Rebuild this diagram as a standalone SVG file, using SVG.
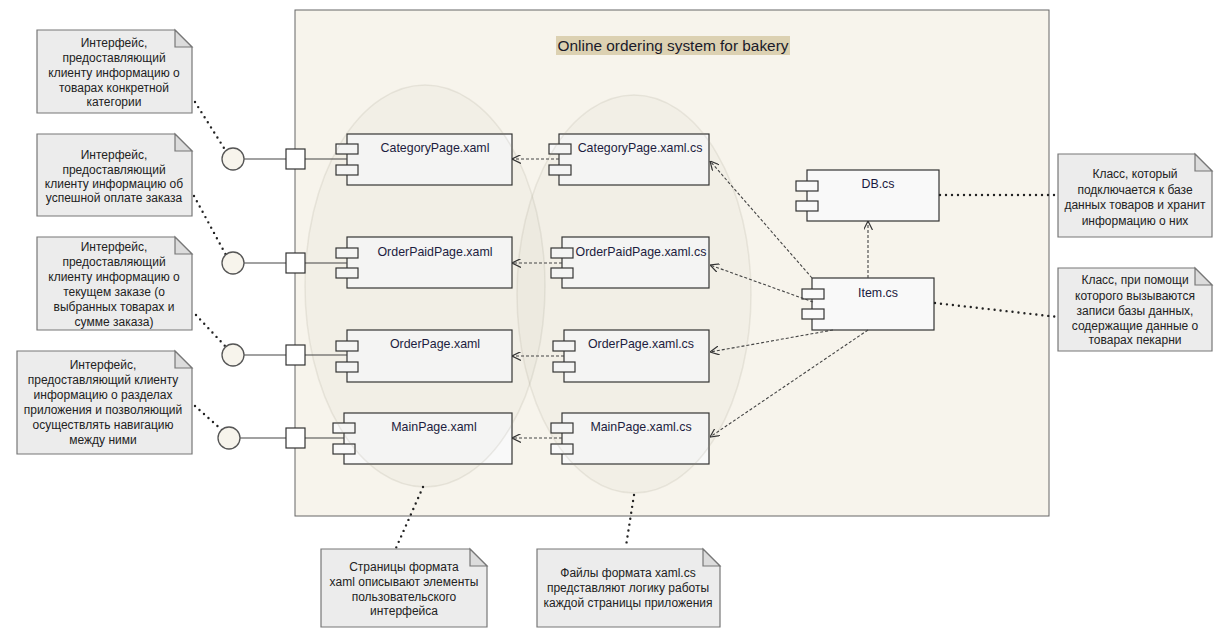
<svg xmlns="http://www.w3.org/2000/svg" width="1226" height="636" viewBox="0 0 1226 636">
<style>
  .bg{fill:#ffffff}
  .frame{fill:#f7f4ec;stroke:#666;stroke-width:1}
  .title{font-family:"Liberation Sans",Arial,sans-serif;font-size:15.4px;fill:#1a1a2a;text-anchor:middle}
  .comp{fill:#f9f9f9;stroke:#333;stroke-width:1.2}
  .port{fill:#f9f9f9;stroke:#333;stroke-width:1.2}
  .ctext{font-family:"Liberation Sans",Arial,sans-serif;font-size:12.4px;fill:#1a1a40;text-anchor:middle}
  .note{fill:#ececec;stroke:#777;stroke-width:1.2}
  .fold{fill:#dcdcdc;stroke:#777;stroke-width:1.2}
  .ntext{font-family:"Liberation Sans",Arial,sans-serif;font-size:12px;fill:#222;text-anchor:middle}
  .ell{fill:rgba(120,110,90,0.035);stroke:rgba(150,140,120,0.15);stroke-width:1.5}
  .dep{fill:none;stroke:#444;stroke-width:1.1;stroke-dasharray:3 2}
  .link{fill:none;stroke:#222;stroke-width:2.4;stroke-linecap:round;stroke-dasharray:0 6}
  .solid{fill:none;stroke:#444;stroke-width:1.2}
  .lolli{fill:#f7f4ec;stroke:#555;stroke-width:1.3}
  .sq{fill:#ffffff;stroke:#333;stroke-width:1.2}
</style>
<defs>
  <marker id="open" viewBox="0 0 10 10" refX="10" refY="5" markerWidth="9" markerHeight="9" markerUnits="userSpaceOnUse" orient="auto">
    <path d="M0,0 L10,5 L0,10" fill="none" stroke="#333" stroke-width="1.3" stroke-dasharray="none"/>
  </marker>
</defs>
<rect class="bg" x="0" y="0" width="1226" height="636"/>

<g id="system">
  <rect class="frame" x="295" y="10" width="754" height="506"/>
  <rect x="556" y="36" width="234" height="19" fill="#dcd1b2"/>
  <text class="title" x="673" y="51">Online ordering system for bakery</text>
</g>

<g id="comp-categorypage-xaml">
  <rect class="comp" x="347" y="134" width="165" height="51"/>
  <rect class="port" x="336" y="144" width="22" height="10"/>
  <rect class="port" x="336" y="165" width="22" height="10"/>
  <text class="ctext" x="435" y="152">CategoryPage.xaml</text>
</g>
<g id="comp-orderpaidpage-xaml">
  <rect class="comp" x="347" y="237" width="165" height="51"/>
  <rect class="port" x="336" y="248" width="22" height="10"/>
  <rect class="port" x="336" y="268" width="22" height="10"/>
  <text class="ctext" x="435" y="256">OrderPaidPage.xaml</text>
</g>
<g id="comp-orderpage-xaml">
  <rect class="comp" x="347" y="330" width="165" height="52"/>
  <rect class="port" x="336" y="341" width="22" height="10"/>
  <rect class="port" x="336" y="362" width="22" height="10"/>
  <text class="ctext" x="435" y="348">OrderPage.xaml</text>
</g>
<g id="comp-mainpage-xaml">
  <rect class="comp" x="344" y="413" width="168" height="51"/>
  <rect class="port" x="333" y="423" width="22" height="10"/>
  <rect class="port" x="333" y="444" width="22" height="10"/>
  <text class="ctext" x="434" y="431">MainPage.xaml</text>
</g>

<g id="comp-categorypage-cs">
  <rect class="comp" x="559" y="134" width="150" height="51"/>
  <rect class="port" x="549" y="144" width="22" height="10"/>
  <rect class="port" x="549" y="165" width="22" height="10"/>
  <text class="ctext" x="640" y="152">CategoryPage.xaml.cs</text>
</g>
<g id="comp-orderpaidpage-cs">
  <rect class="comp" x="562" y="237" width="147" height="51"/>
  <rect class="port" x="551" y="248" width="22" height="10"/>
  <rect class="port" x="551" y="268" width="22" height="10"/>
  <text class="ctext" x="641" y="256">OrderPaidPage.xaml.cs</text>
</g>
<g id="comp-orderpage-cs">
  <rect class="comp" x="564" y="330" width="145" height="52"/>
  <rect class="port" x="553" y="341" width="22" height="10"/>
  <rect class="port" x="553" y="362" width="22" height="10"/>
  <text class="ctext" x="641" y="348">OrderPage.xaml.cs</text>
</g>
<g id="comp-mainpage-cs">
  <rect class="comp" x="562" y="413" width="147" height="51"/>
  <rect class="port" x="551" y="423" width="22" height="10"/>
  <rect class="port" x="551" y="444" width="22" height="10"/>
  <text class="ctext" x="641" y="431">MainPage.xaml.cs</text>
</g>
<g id="comp-db">
  <rect class="comp" x="807" y="170" width="132" height="51"/>
  <rect class="port" x="796" y="181" width="22" height="10"/>
  <rect class="port" x="796" y="201" width="22" height="10"/>
  <text class="ctext" x="878" y="188">DB.cs</text>
</g>
<g id="comp-item">
  <rect class="comp" x="812" y="278" width="122" height="52"/>
  <rect class="port" x="802" y="289" width="22" height="10"/>
  <rect class="port" x="802" y="309" width="22" height="10"/>
  <text class="ctext" x="878" y="297">Item.cs</text>
</g>

<g id="groups">
  <ellipse class="ell" cx="425" cy="286" rx="120" ry="201"/>
  <ellipse class="ell" cx="634" cy="294" rx="117" ry="199"/>
</g>

<g id="connectors">
  <line class="solid" x1="244" y1="159" x2="286" y2="159"/>
  <line class="solid" x1="305" y1="159" x2="347" y2="159"/>
  <line class="solid" x1="244" y1="263" x2="286" y2="263"/>
  <line class="solid" x1="305" y1="263" x2="347" y2="263"/>
  <line class="solid" x1="244" y1="355" x2="286" y2="355"/>
  <line class="solid" x1="305" y1="355" x2="347" y2="355"/>
  <line class="solid" x1="240" y1="438" x2="286" y2="438"/>
  <line class="solid" x1="305" y1="438" x2="344" y2="438"/>
  <line class="dep" x1="559" y1="159" x2="512" y2="159" marker-end="url(#open)"/>
  <line class="dep" x1="562" y1="263" x2="512" y2="263" marker-end="url(#open)"/>
  <line class="dep" x1="564" y1="356" x2="512" y2="356" marker-end="url(#open)"/>
  <line class="dep" x1="562" y1="438" x2="512" y2="438" marker-end="url(#open)"/>
  <line class="dep" x1="812" y1="278" x2="710" y2="161" marker-end="url(#open)"/>
  <line class="dep" x1="813" y1="302" x2="710" y2="265" marker-end="url(#open)"/>
  <line class="dep" x1="833" y1="330" x2="710" y2="352" marker-end="url(#open)"/>
  <line class="dep" x1="868" y1="330" x2="710" y2="437" marker-end="url(#open)"/>
  <line class="dep" x1="868" y1="278" x2="868" y2="221" marker-end="url(#open)"/>
  <line class="link" x1="195" y1="102" x2="224" y2="148"/>
  <line class="link" x1="194" y1="196" x2="226" y2="255"/>
  <line class="link" x1="196" y1="315" x2="226" y2="347"/>
  <line class="link" x1="195" y1="406" x2="222" y2="430"/>
  <line class="link" x1="940" y1="195" x2="1058" y2="195"/>
  <line class="link" x1="935" y1="303" x2="1058" y2="317"/>
  <line class="link" x1="423" y1="487" x2="396" y2="548"/>
  <line class="link" x1="634" y1="495" x2="626" y2="546"/>
</g>

<g id="iface-1">
  <circle class="lolli" cx="233" cy="159" r="11"/>
  <rect class="sq" x="286" y="149" width="19" height="20"/>
</g>
<g id="iface-2">
  <circle class="lolli" cx="233" cy="263" r="11"/>
  <rect class="sq" x="286" y="253" width="19" height="20"/>
</g>
<g id="iface-3">
  <circle class="lolli" cx="233" cy="355" r="11"/>
  <rect class="sq" x="286" y="345" width="19" height="20"/>
</g>
<g id="iface-4">
  <circle class="lolli" cx="229" cy="438" r="11"/>
  <rect class="sq" x="286" y="428" width="19" height="20"/>
</g>

<g id="note-1">
  <path class="note" d="M37,30 H175 L192,47 V113 H37 Z"/>
  <path class="fold" d="M175,30 V47 H192 Z"/>
  <text class="ntext" x="114" y="47">Интерфейс,</text>
  <text class="ntext" x="114" y="62">предоставляющий</text>
  <text class="ntext" x="114" y="77">клиенту информацию о</text>
  <text class="ntext" x="114" y="92">товарах конкретной</text>
  <text class="ntext" x="114" y="106">категории</text>
</g>
<g id="note-2">
  <path class="note" d="M37,134 H175 L192,151 V216 H37 Z"/>
  <path class="fold" d="M175,134 V151 H192 Z"/>
  <text class="ntext" x="114" y="159">Интерфейс,</text>
  <text class="ntext" x="114" y="174">предоставляющий</text>
  <text class="ntext" x="114" y="188">клиенту информацию об</text>
  <text class="ntext" x="114" y="202">успешной оплате заказа</text>
</g>
<g id="note-3">
  <path class="note" d="M37,237 H175 L192,254 V330 H37 Z"/>
  <path class="fold" d="M175,237 V254 H192 Z"/>
  <text class="ntext" x="114" y="251">Интерфейс,</text>
  <text class="ntext" x="114" y="266">предоставляющий</text>
  <text class="ntext" x="114" y="281">клиенту информацию о</text>
  <text class="ntext" x="114" y="296">текущем заказе (о</text>
  <text class="ntext" x="114" y="311">выбранных товарах и</text>
  <text class="ntext" x="114" y="326">сумме заказа)</text>
</g>
<g id="note-4">
  <path class="note" d="M17,351 H175 L192,368 V454 H17 Z"/>
  <path class="fold" d="M175,351 V368 H192 Z"/>
  <text class="ntext" x="103" y="369">Интерфейс,</text>
  <text class="ntext" x="103" y="384">предоставляющий клиенту</text>
  <text class="ntext" x="103" y="399">информацию о разделах</text>
  <text class="ntext" x="103" y="414">приложения и позволяющий</text>
  <text class="ntext" x="103" y="429">осуществлять навигацию</text>
  <text class="ntext" x="103" y="444">между ними</text>
</g>
<g id="note-db">
  <path class="note" d="M1058,154 H1195 L1212,171 V237 H1058 Z"/>
  <path class="fold" d="M1195,154 V171 H1212 Z"/>
  <text class="ntext" x="1135" y="178">Класс, который</text>
  <text class="ntext" x="1135" y="193.5">подключается к базе</text>
  <text class="ntext" x="1135" y="209">данных товаров и хранит</text>
  <text class="ntext" x="1135" y="224.5">информацию о них</text>
</g>
<g id="note-item">
  <path class="note" d="M1058,268 H1195 L1212,285 V351 H1058 Z"/>
  <path class="fold" d="M1195,268 V285 H1212 Z"/>
  <text class="ntext" x="1135" y="284">Класс, при помощи</text>
  <text class="ntext" x="1135" y="299.5">которого вызываются</text>
  <text class="ntext" x="1135" y="315">записи базы данных,</text>
  <text class="ntext" x="1135" y="330">содержащие данные о</text>
  <text class="ntext" x="1135" y="344">товарах пекарни</text>
</g>
<g id="note-xaml">
  <path class="note" d="M321,549 H470 L487,566 V627 H321 Z"/>
  <path class="fold" d="M470,549 V566 H487 Z"/>
  <text class="ntext" x="404" y="571">Страницы формата</text>
  <text class="ntext" x="404" y="586">xaml описывают элементы</text>
  <text class="ntext" x="404" y="601">пользовательского</text>
  <text class="ntext" x="404" y="615">интерфейса</text>
</g>
<g id="note-xamlcs">
  <path class="note" d="M537,549 H703 L720,566 V627 H537 Z"/>
  <path class="fold" d="M703,549 V566 H720 Z"/>
  <text class="ntext" x="628" y="577">Файлы формата xaml.cs</text>
  <text class="ntext" x="628" y="592">представляют логику работы</text>
  <text class="ntext" x="628" y="607">каждой страницы приложения</text>
</g>
</svg>
